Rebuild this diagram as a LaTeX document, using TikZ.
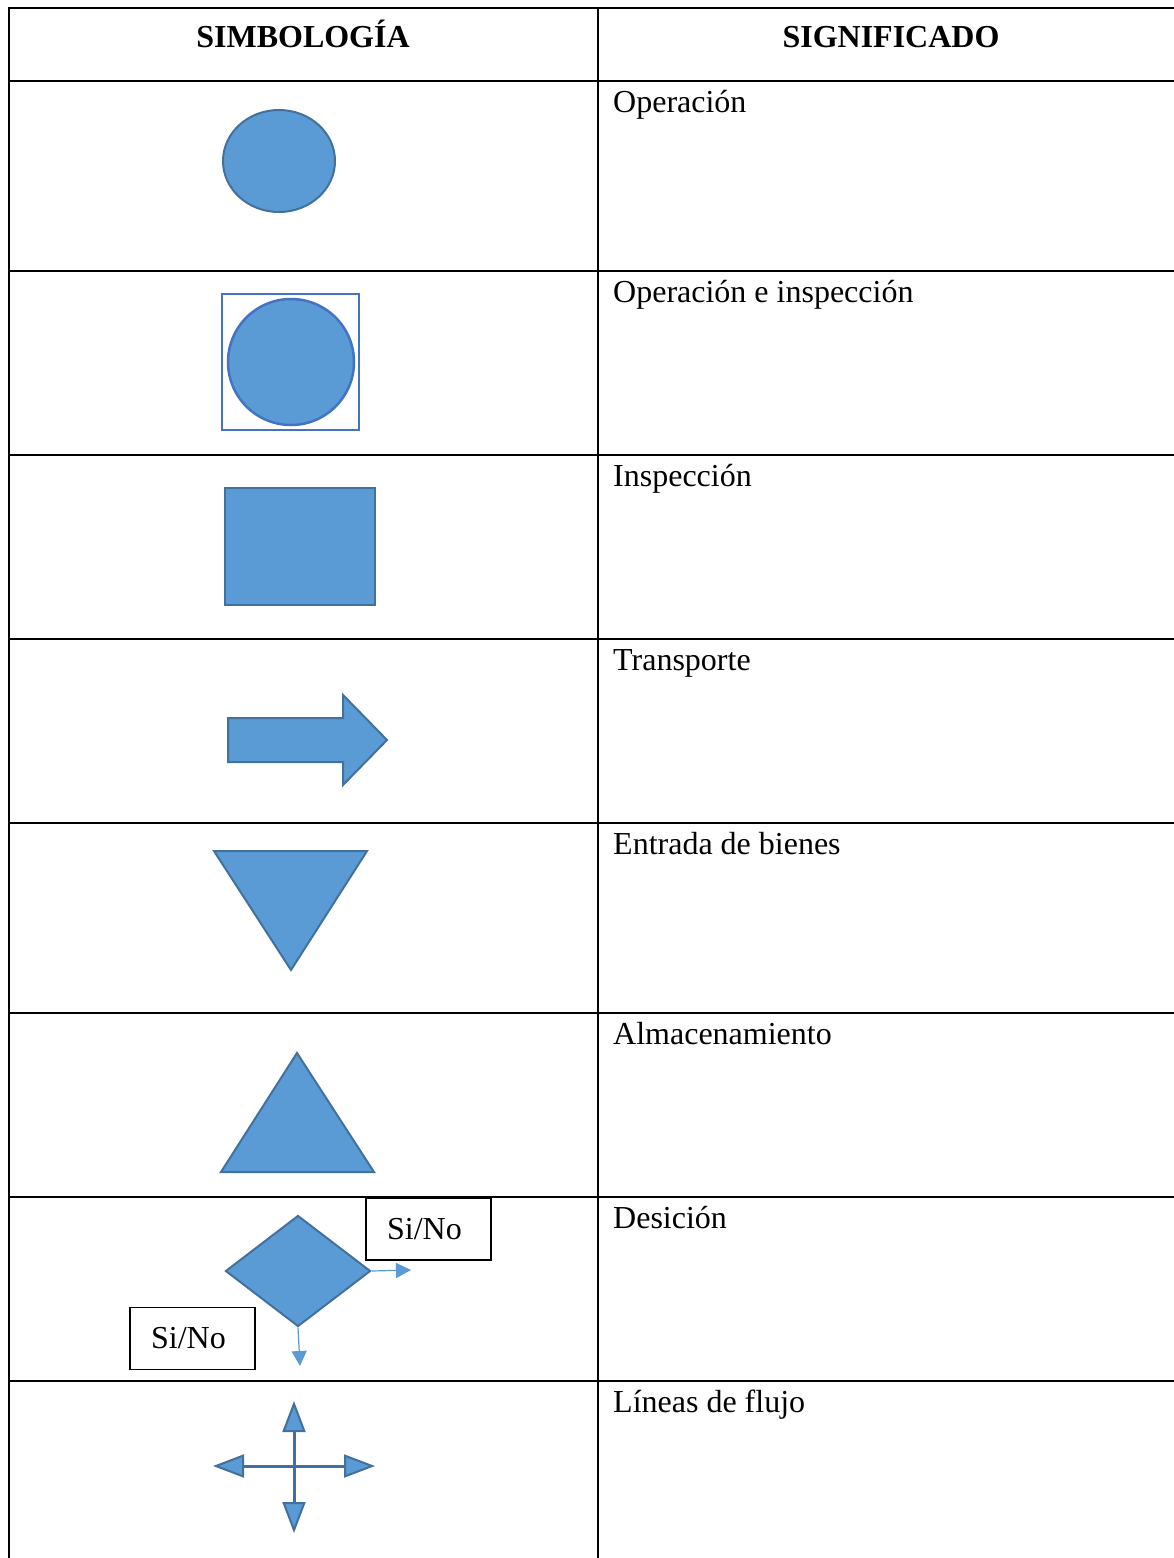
\documentclass[tikz,border=0pt]{standalone}
\usepackage{fontspec}
\setmainfont{Liberation Serif}
\usetikzlibrary{shapes.geometric,arrows.meta}
\definecolor{symfill}{HTML}{5B9BD5}
\definecolor{symedge}{HTML}{41719C}
\definecolor{boxedge}{HTML}{4472C4}
\tikzset{bigtip/.tip={Triangle[width=23pt,length=31pt,fill=symfill,line width=2pt]}}
\begin{document}
\begin{tikzpicture}[x=1pt,y=-1pt,
  rule/.style={line width=1.6pt,black},
  sym/.style={fill=symfill,draw=symedge,line width=2pt,line join=miter},
  meaning/.style={anchor=base west,inner sep=0pt,font=\fontsize{32}{38}\selectfont},
  head/.style={anchor=base,inner sep=0pt,font=\fontsize{32}{38}\selectfont\bfseries},
  choice/.style={draw=black,line width=1.6pt,fill=white,minimum width=125pt,
    minimum height=62pt,inner sep=0pt,font=\fontsize{32}{38}\selectfont},
  flow/.style={draw=symfill,line width=1.2pt,-{Triangle[width=15pt,length=15pt]}},
  cross/.style={draw=symedge,line width=3pt,bigtip-bigtip}
]
\useasboundingbox (0,0) rectangle (1174,1558);
\fill[white] (0,0) rectangle (1174,1558);

% table rules
\draw[rule] (9,1558) -- (9,8) -- (1174,8);
\draw[rule] (598,8) -- (598,1558);
\foreach \y in {81,271,455,639,823,1013,1197,1381}
  \draw[rule] (9,\y) -- (1174,\y);

% header
\node[head] (hsym) at (303,47) {SIMBOLOGÍA};
\node[head] (hsig) at (891,47) {SIGNIFICADO};

% meanings
\node[meaning] (t1) at (613,112) {Operación};
\node[meaning] (t2) at (613,302) {Operación e inspección};
\node[meaning] (t3) at (613,486) {Inspección};
\node[meaning] (t4) at (613,670) {Transporte};
\node[meaning] (t5) at (613,854) {Entrada de bienes};
\node[meaning] (t6) at (613,1044) {Almacenamiento};
\node[meaning] (t7) at (613,1228) {Desición};
\node[meaning] (t8) at (613,1412) {Líneas de flujo};

% operation
\draw[sym] (279,161) ellipse [x radius=56, y radius=51];

% operation and inspection
\draw[draw=boxedge,line width=2pt] (222,294) rectangle (359,430);
\draw[fill=symfill,draw=boxedge,line width=2.5pt] (291,362) circle [radius=63];

% inspection
\draw[sym] (225,488) rectangle (375,605);

% transport
\draw[sym] (228,718) -- (343,718) -- (343,695) -- (387,740) -- (343,785)
  -- (343,762) -- (228,762) -- cycle;

% goods entry
\draw[sym] (214,851) -- (367,851) -- (291,970) -- cycle;

% storage
\draw[sym] (297,1053) -- (374,1172) -- (221,1172) -- cycle;

% decision
\node[diamond,sym,minimum width=145pt,minimum height=111pt,inner sep=0pt]
  (dec) at (298,1271) {};
\node[choice] (yn1) at (428.5,1229) {Si/No\rule{8pt}{0pt}};
\node[choice] (yn2) at (192.5,1338.5) {Si/No\rule{8pt}{0pt}};
\coordinate (decR) at (411,1270);
\coordinate (decD) at (300,1366);
\draw[flow] (dec.east) -- (decR);
\draw[flow] (dec.south) -- (decD);

% flow lines
\coordinate (fc) at (294,1466);
\coordinate (fl) at (213,1466);
\coordinate (fr) at (375,1466);
\coordinate (fu) at (294,1401);
\coordinate (fd) at (294,1533);
\draw[cross] (fl) -- (fr);
\draw[cross] (fu) -- (fd);
\end{tikzpicture}
\end{document}
